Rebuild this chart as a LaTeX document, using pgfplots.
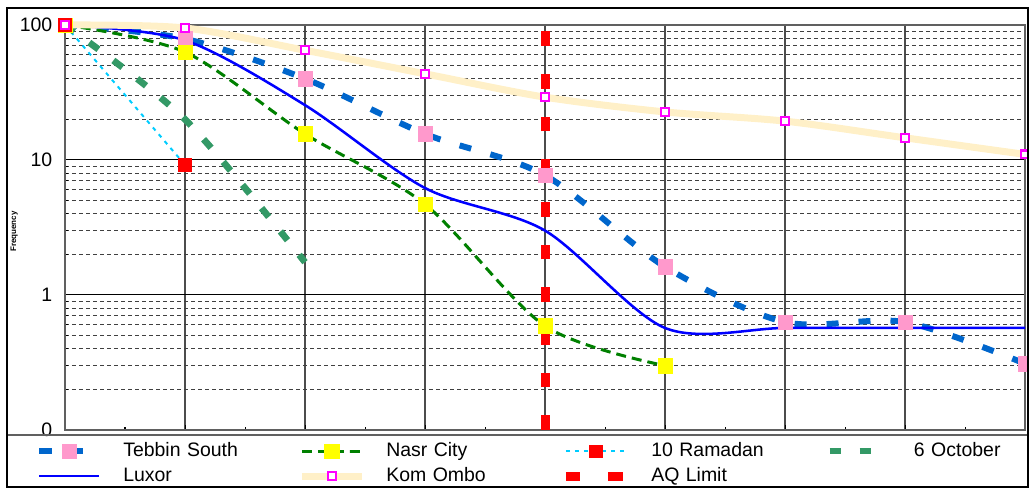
\documentclass[border=0pt]{standalone}
\usepackage{pgfplots}
\pgfplotsset{compat=1.18}
\usepackage{fontspec}
\setmainfont{Liberation Sans}

\definecolor{tebbinblue}{RGB}{0,102,204}
\definecolor{tebbinpink}{RGB}{255,153,204}
\definecolor{nasrgreen}{RGB}{0,128,0}
\definecolor{nasryellow}{RGB}{255,255,0}
\definecolor{ramadancyan}{RGB}{0,204,255}
\definecolor{ramadanred}{RGB}{255,0,0}
\definecolor{octgreen}{RGB}{51,153,102}
\definecolor{luxorblue}{RGB}{0,0,255}
\definecolor{komcream}{RGB}{255,240,200}
\definecolor{kommagenta}{RGB}{255,0,255}
\definecolor{aqred}{RGB}{255,0,0}

\pgfplotsset{
  aqstyle/.style={aqred, line width=6.75pt, dash pattern=on 11pt off 21pt},
}

\begin{document}
\begin{tikzpicture}
\begin{axis}[
  at={(0,0)}, anchor=south west,
  scale only axis, width=720pt, height=303.75pt,
  xmin=0, xmax=8, ymode=log, ymin=0.1, ymax=100,
  clip=false,
  xtick={0,...,8}, xticklabels={}, minor x tick num=1,
  ytick={0.1,1,10,100}, yticklabels={0,1,10,100},
  xmajorgrids, ymajorgrids, yminorgrids,
  major x grid style={gray!60!black, line width=1pt},
  major y grid style={black, line width=0.75pt},
  minor y grid style={black!75, line width=0.75pt, dash pattern=on 3pt off 2.25pt},
  axis line style={gray!75!black, line width=1.5pt},
  tick style={black, line width=0.75pt},
  major tick length=3.75pt, minor tick length=2.5pt,
  xtick pos=bottom, ytick pos=left,
  /pgf/number format/assume math mode=true,
  yticklabel style={font=\fontsize{14.6}{16}\selectfont, xshift=-6pt},
  ylabel={Frequency},
  ylabel style={font=\fontsize{6}{7}\selectfont\bfseries,
    at={(axis description cs:-0.053,0.49)}, anchor=center},
  legend columns=4, legend cell align=left,
  legend style={at={(axis description cs:-0.0302,-0.0243)}, anchor=north west,
    draw=none, fill=none, inner sep=0pt, row sep=2.25pt,
    font=\fontsize{14.6}{16}\selectfont,
    nodes={text width=125pt, inner xsep=0pt, inner ysep=1.5pt,
      text height=10.5pt, text depth=3pt},
    /tikz/every odd column/.append style={column sep=15.75pt},
    /tikz/every even column/.append style={column sep=6.25pt}},
  legend image code/.code={\draw[mark repeat=2,mark phase=2,#1]
    plot coordinates {(0pt,0pt) (22.5pt,0pt) (45pt,0pt)};},
]

% AQ limit drawn first so the series markers sit above it
\addplot[aqstyle, forget plot] coordinates {(4,0.1) (4,100)};

% Tebbin South
\addplot[tebbinblue, line width=4.5pt, dash pattern=on 9pt off 15pt, smooth,
  mark=square*, mark size=5.4pt,
  mark options={solid, fill=tebbinpink, draw=tebbinpink, line width=0.4pt}]
  coordinates {(0,100) (1,79) (2,40) (3,15.6) (4,7.7) (5,1.62) (6,0.63) (7,0.63) (8,0.31)};
\addlegendentry{Tebbin South}

% Nasr City
\addplot[nasrgreen, line width=2.25pt, dash pattern=on 7.5pt off 4.5pt, smooth,
  mark=square*, mark size=5.4pt,
  mark options={solid, fill=nasryellow, draw=nasryellow, line width=0.4pt}]
  coordinates {(0,100) (1,63) (2,15.6) (3,4.7) (4,0.59) (5,0.30)};
\addlegendentry{Nasr City}

% 10 Ramadan
\addplot[ramadancyan, line width=1.5pt, dash pattern=on 3pt off 3.75pt,
  mark=square*, mark size=4.7pt,
  mark options={solid, fill=ramadanred, draw=ramadanred, line width=0.4pt}]
  coordinates {(0,100) (1,9.2)};
\addlegendentry{10 Ramadan}

% 6 October
\addplot[octgreen, line width=5pt, dash pattern=on 8.5pt off 14pt, smooth]
  coordinates {(0,100) (1,20) (2,1.75)};
\addlegendentry{6 October}

% Luxor
\addplot[luxorblue, line width=1.9pt, smooth]
  coordinates {(0,100) (1,77) (2,25.5) (3,6.2) (4,3.0) (5,0.57) (6,0.57) (7,0.57) (8,0.57)};
\addlegendentry{Luxor}

% Kom Ombo
\addplot[komcream, line width=5.25pt, smooth,
  mark=square*, mark size=2.9pt,
  mark options={solid, fill=white, draw=kommagenta, line width=1.6pt}]
  coordinates {(0,100) (1,95) (2,65) (3,43.5) (4,29.2) (5,22.7) (6,19.4) (7,14.6) (8,11.0)};
\addlegendentry{Kom Ombo}

\addlegendimage{aqstyle}
\addlegendentry{AQ Limit}
\end{axis}

% legend separator and outer frame
\draw[gray!75!black, line width=1.2pt] (-43.5pt,-3.75pt) -- (722.25pt,-3.75pt);
\draw[black, line width=1.1pt] (-43.5pt,-42.75pt) rectangle (722.25pt,316.5pt);

\pgfresetboundingbox
\path[use as bounding box] (-48.75pt,-44.25pt) rectangle (723pt,322.5pt);
\end{tikzpicture}
\end{document}
